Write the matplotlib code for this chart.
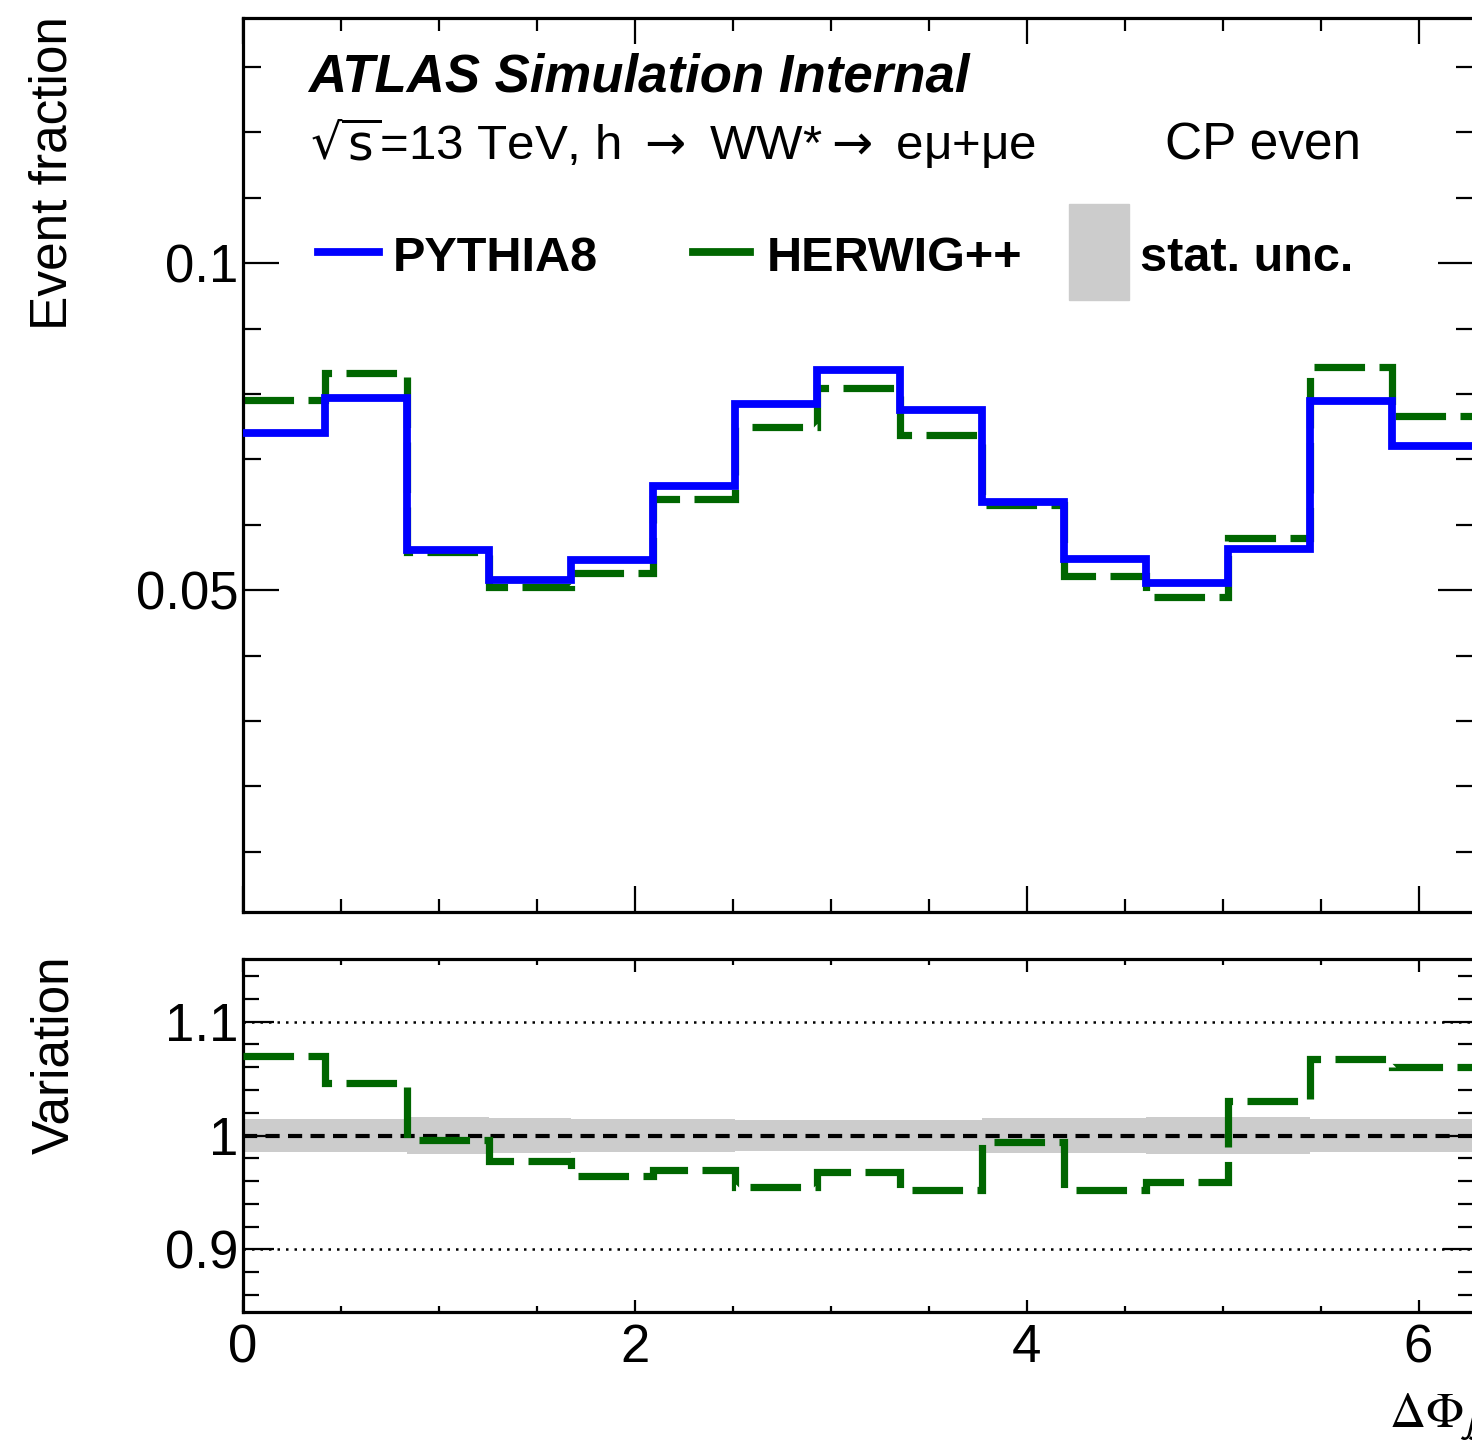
import numpy as np
import matplotlib
matplotlib.use("Agg")
import matplotlib.pyplot as plt
from matplotlib.ticker import MultipleLocator
from matplotlib.lines import Line2D
from matplotlib.patches import Rectangle

plt.rcParams['font.family'] = ['Liberation Sans', 'DejaVu Sans']
plt.rcParams['mathtext.fontset'] = 'custom'
plt.rcParams['mathtext.rm'] = 'Liberation Sans'
plt.rcParams['mathtext.it'] = 'Liberation Sans:italic'
plt.rcParams['mathtext.bf'] = 'Liberation Sans:bold'

# 15 bins in delta phi_jj between 0 and 2 pi
edges = np.linspace(0, 2 * np.pi, 16)

# event fractions per bin
pythia = [0.0740, 0.0794, 0.0561, 0.0516, 0.0547, 0.0660, 0.0785, 0.0837,
          0.0776, 0.0635, 0.0548, 0.0511, 0.0563, 0.0789, 0.0721]
herwig = [0.0791, 0.0832, 0.0559, 0.0505, 0.0527, 0.0640, 0.0749, 0.0810,
          0.0738, 0.0631, 0.0522, 0.0490, 0.0580, 0.0842, 0.0766]
# herwig / pythia
ratio = [1.070, 1.046, 0.996, 0.978, 0.964, 0.970, 0.955, 0.968,
         0.952, 0.994, 0.952, 0.959, 1.030, 1.067, 1.060]
# relative stat. uncertainty of pythia
stat_unc = [0.0149, 0.0146, 0.0163, 0.0158, 0.0146, 0.0143, 0.0134, 0.0134,
            0.0134, 0.0158, 0.0158, 0.0163, 0.0163, 0.0146, 0.0146]

blue = '#0000ff'
green = '#006600'
grey = '#cccccc'
dash = (0, (7.0, 2.0))

W, H = 1472, 1450
fig = plt.figure(figsize=(W / 100, H / 100), dpi=100)


def fx(px):
    return px / W


def fy(py):
    return 1 - py / H


def box(l, t, r, b):
    return [fx(l), fy(b), (r - l) / W, (b - t) / H]


ax = fig.add_axes(box(243, 18, 1474, 912))
rax = fig.add_axes(box(243, 959, 1474, 1312))

# top panel
ax.stairs(pythia, edges, baseline=None, color=blue, lw=5.6, zorder=3)
ax.stairs(herwig, edges, baseline=None, color=green, lw=5.2, linestyle=dash, zorder=2)
ax.set_xlim(0, 2 * np.pi)
ax.set_ylim(0.0008, 0.1375)
ax.yaxis.set_minor_locator(MultipleLocator(0.01))
ax.set_yticks([0.05, 0.1])
ax.set_yticklabels(['0.05', '0.1'])

# ratio panel
lo = [1 - u for u in stat_unc]
hi = [1 + u for u in stat_unc]
rax.stairs(hi, edges, baseline=lo, fill=True, color=grey, lw=0, zorder=1)
rax.axhline(1.0, color='black', lw=3.0, linestyle=(0, (3.4, 2.0)), zorder=2)
rax.axhline(1.1, color='black', lw=1.8, linestyle=(0, (1.0, 2.4)), zorder=2)
rax.axhline(0.9, color='black', lw=1.8, linestyle=(0, (1.0, 2.4)), zorder=2)
rax.stairs(ratio, edges, baseline=None, color=green, lw=5.2, linestyle=dash, zorder=3)
rax.set_xlim(0, 2 * np.pi)
rax.set_ylim(0.845, 1.155)
rax.set_yticks([0.9, 1.0, 1.1])
rax.set_yticklabels(['0.9', '1', '1.1'])
rax.yaxis.set_minor_locator(MultipleLocator(0.02))

for a in (ax, rax):
    a.xaxis.set_major_locator(MultipleLocator(2))
    a.xaxis.set_minor_locator(MultipleLocator(0.5))
    for s in a.spines.values():
        s.set_linewidth(2.3)
    a.tick_params(which='both', direction='in', top=True, right=True, width=1.6,
                  labelsize=38, colors='black')
ax.tick_params(axis='y', which='major', length=26, pad=3)
ax.tick_params(axis='y', which='minor', length=13)
ax.tick_params(axis='x', which='major', length=19)
ax.tick_params(axis='x', which='minor', length=9.5)
ax.tick_params(axis='x', labelbottom=False)
rax.tick_params(axis='y', which='major', length=22, pad=3)
rax.tick_params(axis='y', which='minor', length=11.5)
rax.tick_params(axis='x', which='major', length=9, pad=8)
rax.tick_params(axis='x', which='minor', length=4.5)

# axis titles
fig.text(fx(53), fy(16), 'Event fraction', rotation=90, ha='center', va='top', fontsize=37)
fig.text(fx(55), fy(955), 'Variation', rotation=90, ha='center', va='top', fontsize=37)
fig.text(fx(1389), fy(1426), r'$\Delta\Phi_{\mathsf{jj}}$', math_fontfamily='stix',
         ha='left', va='baseline', fontsize=36)

# labels
fig.text(fx(308), fy(92), 'ATLAS Simulation Internal', fontsize=38,
         fontweight='bold', fontstyle='italic', va='baseline')
fig.text(fx(310), fy(160),
         r'$\sqrt{\mathrm{s}}$=13 TeV, h ${\rightarrow}$ WW*${\rightarrow}$ eμ+μe',
         math_fontfamily='dejavusans', fontsize=35.5, va='baseline')
fig.text(fx(1165), fy(160), 'CP even', fontsize=37, va='baseline')

# legend
fig.add_artist(Line2D([fx(318), fx(379)], [fy(252), fy(252)], color=blue, lw=5.6,
                      transform=fig.transFigure))
fig.text(fx(393), fy(271), 'PYTHIA8', fontsize=35, fontweight='bold', va='baseline')
fig.add_artist(Line2D([fx(693), fx(750)], [fy(252), fy(252)], color=green, lw=5.6,
                      transform=fig.transFigure))
fig.text(fx(767), fy(271), 'HERWIG++', fontsize=35, fontweight='bold', va='baseline')
fig.add_artist(Rectangle((fx(1069), fy(300)), fx(1129) - fx(1069), fy(204) - fy(300),
                         color=grey, transform=fig.transFigure))
fig.text(fx(1140), fy(271), 'stat. unc.', fontsize=35, fontweight='bold', va='baseline')

fig.savefig('out.png', dpi=100)
